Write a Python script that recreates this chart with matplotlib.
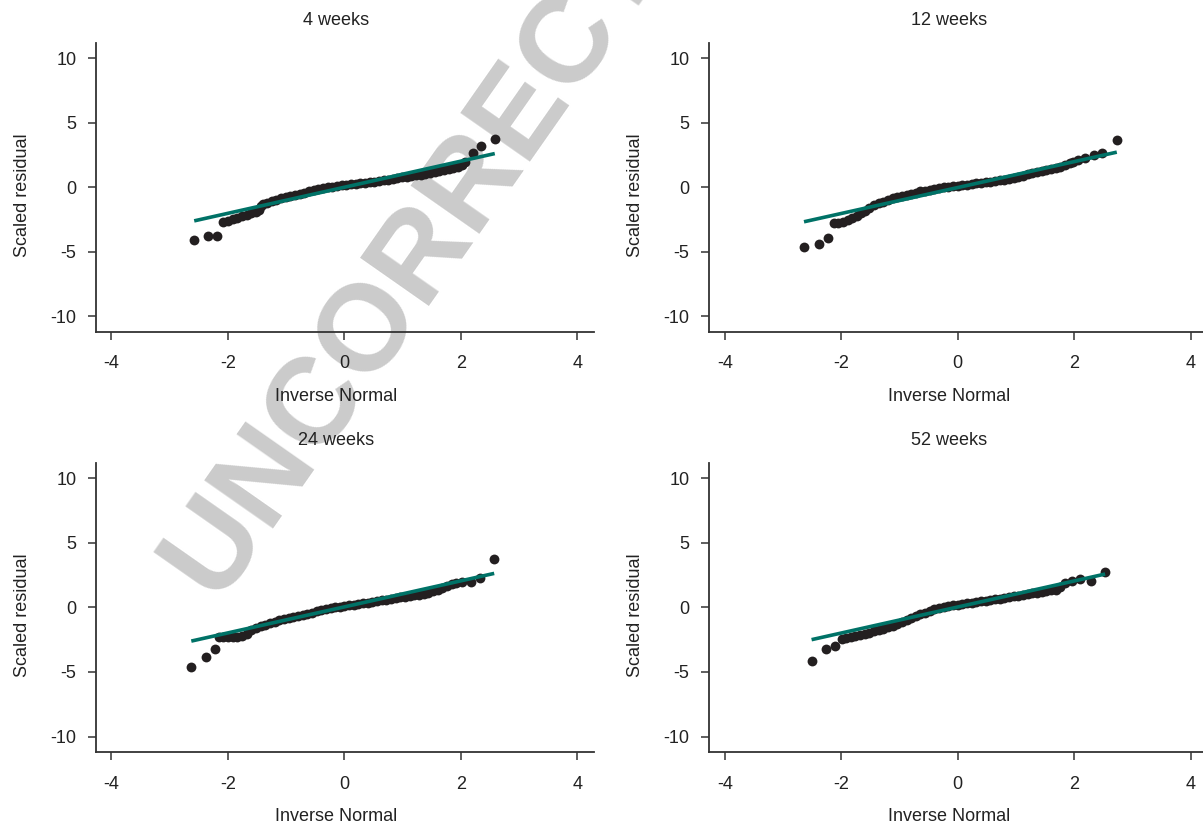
from __future__ import annotations

import matplotlib

matplotlib.use("Agg")
import matplotlib.pyplot as plt

plt.rcParams["font.family"] = ["Liberation Sans", "DejaVu Sans"]
plt.rcParams["axes.unicode_minus"] = False

DOT_COLOR = "#231f20"
LINE_COLOR = "#007267"
AXIS_COLOR = "#333333"
WATERMARK_COLOR = "#cbcbcb"

X_TICKS = [-4, -2, 0, 2, 4]
Y_TICKS = [-10, -5, 0, 5, 10]

# 4 weeks
x_4wk = [-2.58, -2.34, -2.19, -2.08, -2.00, -1.92, -1.84, -1.76, -1.68, -1.60,
         -1.52, -1.46, -1.43, -1.40, -1.33, -1.25, -1.17, -1.09, -1.01, -0.93,
         -0.85, -0.77, -0.69, -0.61, -0.53, -0.45, -0.37, -0.29, -0.21, -0.13,
         -0.05, 0.03, 0.11, 0.19, 0.27, 0.35, 0.43, 0.51, 0.59, 0.67,
         0.75, 0.83, 0.91, 0.99, 1.07, 1.15, 1.23, 1.31, 1.39, 1.47,
         1.55, 1.63, 1.71, 1.79, 1.87, 1.95, 2.02, 2.07, 2.20, 2.34, 2.58]
y_4wk = [-4.11, -3.80, -3.80, -2.71, -2.60, -2.48, -2.37, -2.25, -2.14, -2.02,
         -1.90, -1.80, -1.45, -1.28, -1.20, -1.10, -1.00, -0.88, -0.78, -0.68,
         -0.59, -0.50, -0.42, -0.34, -0.26, -0.18, -0.10, -0.03, 0.03, 0.08,
         0.13, 0.17, 0.21, 0.25, 0.29, 0.34, 0.38, 0.43, 0.48, 0.53,
         0.58, 0.63, 0.69, 0.75, 0.80, 0.85, 0.90, 0.96, 1.02, 1.08,
         1.15, 1.23, 1.32, 1.41, 1.49, 1.57, 1.70, 1.92, 2.61, 3.18, 3.70]
line_x_4wk = [-2.58, 2.58]
line_y_4wk = [-2.62, 2.60]

# 12 weeks
x_12wk = [-2.64, -2.39, -2.23, -2.13, -2.05, -1.97, -1.89, -1.81, -1.73, -1.66,
          -1.60, -1.52, -1.44, -1.36, -1.28, -1.20, -1.12, -1.04, -0.96, -0.88,
          -0.80, -0.72, -0.64, -0.56, -0.48, -0.40, -0.32, -0.24, -0.16, -0.08,
          0.00, 0.08, 0.16, 0.24, 0.32, 0.40, 0.48, 0.56, 0.64, 0.72,
          0.80, 0.88, 0.96, 1.04, 1.12, 1.20, 1.28, 1.36, 1.44, 1.52,
          1.60, 1.68, 1.76, 1.84, 1.92, 1.98, 2.07, 2.18, 2.33, 2.47, 2.73]
y_12wk = [-4.63, -4.42, -3.93, -2.82, -2.76, -2.68, -2.57, -2.42, -2.22, -2.00,
          -1.82, -1.62, -1.42, -1.26, -1.12, -1.00, -0.88, -0.77, -0.67, -0.58,
          -0.50, -0.42, -0.34, -0.28, -0.21, -0.15, -0.08, -0.02, 0.03, 0.08,
          0.12, 0.16, 0.20, 0.24, 0.28, 0.32, 0.37, 0.41, 0.46, 0.52,
          0.58, 0.65, 0.72, 0.80, 0.89, 0.98, 1.06, 1.14, 1.23, 1.32,
          1.41, 1.50, 1.59, 1.70, 1.84, 1.96, 2.09, 2.22, 2.48, 2.61, 3.64]
line_x_12wk = [-2.64, 2.73]
line_y_12wk = [-2.69, 2.71]

# 24 weeks
x_24wk = [-2.63, -2.38, -2.23, -2.16, -2.08, -2.00, -1.92, -1.84, -1.76, -1.68,
          -1.60, -1.52, -1.44, -1.36, -1.28, -1.20, -1.12, -1.04, -0.96, -0.88,
          -0.80, -0.72, -0.64, -0.56, -0.48, -0.40, -0.32, -0.24, -0.16, -0.08,
          0.00, 0.08, 0.16, 0.24, 0.32, 0.40, 0.48, 0.56, 0.64, 0.72,
          0.80, 0.88, 0.96, 1.04, 1.12, 1.20, 1.28, 1.36, 1.44, 1.52,
          1.60, 1.68, 1.76, 1.84, 1.92, 2.01, 2.18, 2.33, 2.57]
y_24wk = [-4.60, -3.83, -3.23, -2.30, -2.30, -2.29, -2.28, -2.26, -2.20, -2.05,
          -1.75, -1.58, -1.45, -1.33, -1.21, -1.10, -1.00, -0.92, -0.84, -0.75,
          -0.66, -0.57, -0.48, -0.40, -0.30, -0.22, -0.14, -0.07, 0.00, 0.06,
          0.11, 0.16, 0.21, 0.26, 0.30, 0.36, 0.42, 0.48, 0.54, 0.59,
          0.65, 0.71, 0.77, 0.82, 0.88, 0.93, 0.98, 1.06, 1.14, 1.24,
          1.36, 1.50, 1.64, 1.78, 1.88, 1.98, 1.95, 2.30, 3.72]
line_x_24wk = [-2.63, 2.57]
line_y_24wk = [-2.61, 2.63]

# 52 weeks
x_52wk = [-2.51, -2.27, -2.11, -1.99, -1.92, -1.84, -1.76, -1.68, -1.60, -1.52,
          -1.44, -1.36, -1.28, -1.20, -1.12, -1.04, -0.96, -0.88, -0.80, -0.72,
          -0.64, -0.56, -0.48, -0.40, -0.32, -0.24, -0.16, -0.08, 0.00, 0.08,
          0.16, 0.24, 0.32, 0.40, 0.48, 0.56, 0.64, 0.72, 0.80, 0.88,
          0.96, 1.04, 1.12, 1.20, 1.28, 1.36, 1.44, 1.52, 1.60, 1.68,
          1.76, 1.84, 1.96, 2.10, 2.29, 2.53]
y_52wk = [-4.14, -3.26, -2.98, -2.48, -2.36, -2.26, -2.18, -2.12, -2.05, -1.96,
          -1.86, -1.76, -1.64, -1.52, -1.42, -1.32, -1.15, -0.98, -0.82, -0.66,
          -0.52, -0.40, -0.26, -0.16, -0.08, 0.01, 0.08, 0.15, 0.21, 0.26,
          0.30, 0.35, 0.40, 0.46, 0.52, 0.57, 0.62, 0.68, 0.74, 0.79,
          0.85, 0.91, 0.97, 1.03, 1.08, 1.14, 1.20, 1.26, 1.31, 1.38,
          1.56, 1.86, 2.06, 2.17, 2.06, 2.76]
line_x_52wk = [-2.51, 2.53]
line_y_52wk = [-2.50, 2.58]

PANELS = [
    ("4 weeks", x_4wk, y_4wk, line_x_4wk, line_y_4wk, [0.0796, 0.5974, 0.414, 0.350]),
    ("12 weeks", x_12wk, y_12wk, line_x_12wk, line_y_12wk, [0.5894, 0.5974, 0.414, 0.350]),
    ("24 weeks", x_24wk, y_24wk, line_x_24wk, line_y_24wk, [0.0796, 0.0870, 0.414, 0.3507]),
    ("52 weeks", x_52wk, y_52wk, line_x_52wk, line_y_52wk, [0.5894, 0.0870, 0.414, 0.3507]),
]


def draw_panel(fig, title, xs, ys, line_x, line_y, rect):
    ax = fig.add_axes(rect)
    ax.set_facecolor("none")

    ax.scatter(xs, ys, s=50, color=DOT_COLOR, linewidths=0, zorder=2)
    ax.plot(line_x, line_y, color=LINE_COLOR, linewidth=2.6, solid_capstyle="butt", zorder=3)

    ax.set_xlim(-4.27, 4.28)
    ax.set_ylim(-11.22, 11.15)
    ax.set_xticks(X_TICKS)
    ax.set_yticks(Y_TICKS)

    ax.spines[["top", "right"]].set_visible(False)
    for side in ["left", "bottom"]:
        ax.spines[side].set_color(AXIS_COLOR)
        ax.spines[side].set_linewidth(1.3)
    ax.tick_params(direction="out", length=6, width=1.1, color=AXIS_COLOR,
                   labelsize=13, labelcolor="#222222")
    ax.tick_params(axis="x", pad=11)
    ax.tick_params(axis="y", pad=8)

    ax.set_title(title, fontsize=13, color="#222222", x=0.482, pad=13)
    ax.set_xlabel("Inverse Normal", fontsize=13, color="#222222", x=0.482, labelpad=11)
    ax.set_ylabel("Scaled residual", fontsize=13, color="#222222", y=0.474, labelpad=14)
    return ax


def main() -> None:
    fig = plt.figure(figsize=(12.03, 8.24), dpi=100)

    # watermark sits behind the panels, which have transparent faces
    fig.text(0.384, 0.766, "UNCORRECTED", fontsize=88, fontweight="bold",
             color=WATERMARK_COLOR, rotation=55, rotation_mode="anchor",
             ha="center", va="center", zorder=-1)

    for title, xs, ys, line_x, line_y, rect in PANELS:
        draw_panel(fig, title, xs, ys, line_x, line_y, rect)

    fig.savefig("out.png", dpi=100)
    plt.close(fig)


if __name__ == "__main__":
    main()
